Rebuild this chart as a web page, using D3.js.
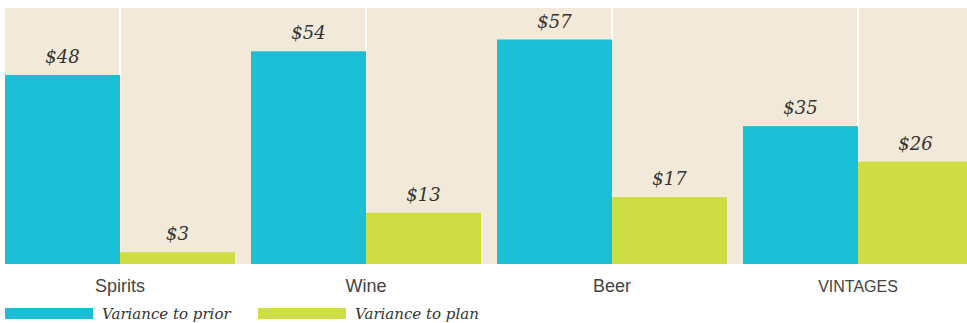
<!DOCTYPE html>
<html>
<head>
<meta charset="utf-8">
<script src="https://cdn.jsdelivr.net/npm/d3@7"></script>
<style>
  body { margin: 0; background: #fff; }
  svg { display: block; }
</style>
</head>
<body>
<script>
const categories = ["Spirits", "Wine", "Beer", "VINTAGES"];
const seriesNames = ["Variance to prior", "Variance to plan"];
const priorValues = [48, 54, 57, 35];
const planValues = [3, 13, 17, 26];

const width = 967, height = 323;
const plot = { left: 5, right: 967, top: 8, bottom: 264 };
const colors = ["#1bbfd5", "#cfdd45"];

const svg = d3.select("body").append("svg")
    .attr("width", width)
    .attr("height", height);

// groups are 230px wide with a 16px gap; the last one runs off the right edge
const x = d3.scaleBand()
    .domain(categories)
    .range([plot.left, 973])
    .paddingInner(16 / 246)
    .paddingOuter(0);

const xSub = d3.scaleBand()
    .domain(seriesNames)
    .range([0, x.bandwidth()]);

const y = d3.scaleLinear()
    .domain([0, 65])
    .range([plot.bottom, plot.top]);

const rows = categories.map((c, i) => ({
    category: c,
    values: [
        { series: seriesNames[0], value: priorValues[i] },
        { series: seriesNames[1], value: planValues[i] }
    ]
}));

const clip = svg.append("clipPath").attr("id", "plot-clip")
    .append("rect")
    .attr("x", plot.left).attr("y", 0)
    .attr("width", plot.right - plot.left).attr("height", plot.bottom);

svg.append("rect")
    .attr("x", plot.left)
    .attr("y", plot.top)
    .attr("width", plot.right - plot.left)
    .attr("height", plot.bottom - plot.top)
    .attr("fill", "#f2e9d8");

// white gridlines through each group center
svg.append("g")
    .selectAll("line")
    .data(categories)
    .join("line")
    .attr("x1", d => x(d) + x.bandwidth() / 2)
    .attr("x2", d => x(d) + x.bandwidth() / 2)
    .attr("y1", plot.top)
    .attr("y2", plot.bottom)
    .attr("stroke", "#fff")
    .attr("stroke-width", 2);

const groups = svg.append("g")
    .attr("clip-path", "url(#plot-clip)")
    .selectAll("g")
    .data(rows)
    .join("g")
    .attr("transform", d => `translate(${x(d.category)},0)`);

groups.selectAll("rect")
    .data(d => d.values)
    .join("rect")
    .attr("x", d => xSub(d.series))
    .attr("y", d => y(d.value))
    .attr("width", xSub.bandwidth())
    .attr("height", d => y(0) - y(d.value))
    .attr("fill", (d, i) => colors[i]);

groups.selectAll("text")
    .data(d => d.values)
    .join("text")
    .attr("x", d => xSub(d.series) + xSub.bandwidth() / 2)
    .attr("y", d => y(d.value) - 12)
    .attr("text-anchor", "middle")
    .attr("font-family", "'DejaVu Serif', serif")
    .attr("font-style", "italic")
    .attr("font-size", 18)
    .attr("fill", "#333")
    .text(d => "$" + d.value);

// category labels
svg.append("g")
    .selectAll("text")
    .data(categories)
    .join("text")
    .attr("x", d => x(d) + x.bandwidth() / 2)
    .attr("y", 292)
    .attr("text-anchor", "middle")
    .attr("font-family", "'Liberation Sans', Arial, sans-serif")
    .attr("font-size", d => d === "VINTAGES" ? 16 : 18)
    .attr("fill", "#444")
    .text(d => d);

// legend
const legend = svg.append("g")
    .selectAll("g")
    .data(seriesNames)
    .join("g")
    .attr("transform", (d, i) => `translate(${5 + i * 253},308)`);

legend.append("rect")
    .attr("width", 88)
    .attr("height", 11)
    .attr("fill", (d, i) => colors[i]);

legend.append("text")
    .attr("x", 97)
    .attr("y", 11)
    .attr("font-family", "'DejaVu Serif', serif")
    .attr("font-style", "italic")
    .attr("font-size", 15)
    .attr("fill", "#333")
    .text(d => d);
</script>
</body>
</html>
